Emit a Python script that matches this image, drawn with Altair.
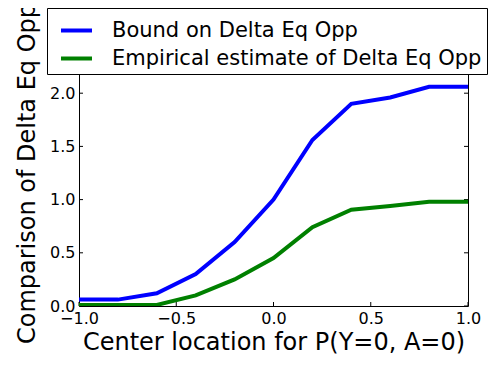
import altair as alt
import pandas as pd

x_vals = [-1.0, -0.8, -0.6, -0.4, -0.2, 0.0, 0.2, 0.4, 0.6, 0.8, 1.0]
bound = [0.06, 0.06, 0.12, 0.30, 0.60, 1.00, 1.56, 1.90, 1.96, 2.06, 2.06]
empirical = [0.01, 0.01, 0.01, 0.10, 0.25, 0.45, 0.74, 0.905, 0.94, 0.98, 0.98]
series_names = ["Bound on Delta Eq Opp", "Empirical estimate of Delta Eq Opp"]
series_colors = ["#0000ff", "#008000"]
x_ticks = [-1.0, -0.5, 0.0, 0.5, 1.0]
y_ticks = [0.0, 0.5, 1.0, 1.5, 2.0, 2.5]

W, H = 389, 266
FONT = "DejaVu Sans"

rows = []
for name, vals in zip(series_names, [bound, empirical]):
    for xv, yv in zip(x_vals, vals):
        rows.append({"x": xv, "y": yv, "series": name})
df = pd.DataFrame(rows)

xscale = alt.Scale(domain=[-1, 1], nice=False, zero=False)
yscale = alt.Scale(domain=[0, 2.5], nice=False, zero=False)

lines = alt.Chart(df).mark_line(strokeWidth=4, clip=True).encode(
    x=alt.X("x:Q", scale=xscale,
            axis=alt.Axis(values=x_ticks, format=".1f", title="Center location for P(Y=0, A=0)",
                          tickSize=0, labelPadding=4, titlePadding=4, grid=False,
                          labelFlush=False, labelOverlap=False)),
    y=alt.Y("y:Q", scale=yscale,
            axis=alt.Axis(values=y_ticks, format=".1f", title="Comparison of Delta Eq Opp",
                          tickSize=0, labelPadding=4, titlePadding=10, grid=False,
                          labelFlush=False, labelOverlap=False)),
    color=alt.Color("series:N",
                    scale=alt.Scale(domain=series_names, range=series_colors),
                    legend=alt.Legend(title=None, orient="none", legendX=-32, legendY=-32,
                                      symbolType="stroke", symbolStrokeWidth=4, symbolSize=961,
                                      symbolOffset=7,
                                      labelFontSize=21, labelFont=FONT, labelColor="black",
                                      labelOffset=18, rowPadding=0, padding=5,
                                      strokeColor="black", fillColor="white",
                                      labelLimit=1000)),
)

xt = pd.DataFrame({"v": x_ticks})
yt = pd.DataFrame({"v": y_ticks})
xtick_b = alt.Chart(xt).mark_rule(color="black", strokeWidth=1).encode(
    x=alt.X("v:Q", scale=xscale), y=alt.value(H), y2=alt.value(H - 4))
xtick_t = alt.Chart(xt).mark_rule(color="black", strokeWidth=1).encode(
    x=alt.X("v:Q", scale=xscale), y=alt.value(0), y2=alt.value(4))
ytick_l = alt.Chart(yt).mark_rule(color="black", strokeWidth=1).encode(
    y=alt.Y("v:Q", scale=yscale), x=alt.value(0), x2=alt.value(4))
ytick_r = alt.Chart(yt).mark_rule(color="black", strokeWidth=1).encode(
    y=alt.Y("v:Q", scale=yscale), x=alt.value(W), x2=alt.value(W - 4))

chart = alt.layer(xtick_b, xtick_t, ytick_l, ytick_r, lines).properties(
    width=W, height=H,
    background="white",
    autosize=alt.AutoSizeParams(type="none"),
    padding={"left": 71, "top": 32, "right": 20, "bottom": 50},
).configure_view(stroke="black", strokeWidth=1).configure_axis(
    labelFont=FONT, labelFontSize=16, labelColor="black",
    titleFont=FONT, titleFontSize=24, titleFontWeight="normal", titleColor="black",
    domain=False,
)

chart.save("out.html", embed_options={"renderer": "svg", "actions": False})
